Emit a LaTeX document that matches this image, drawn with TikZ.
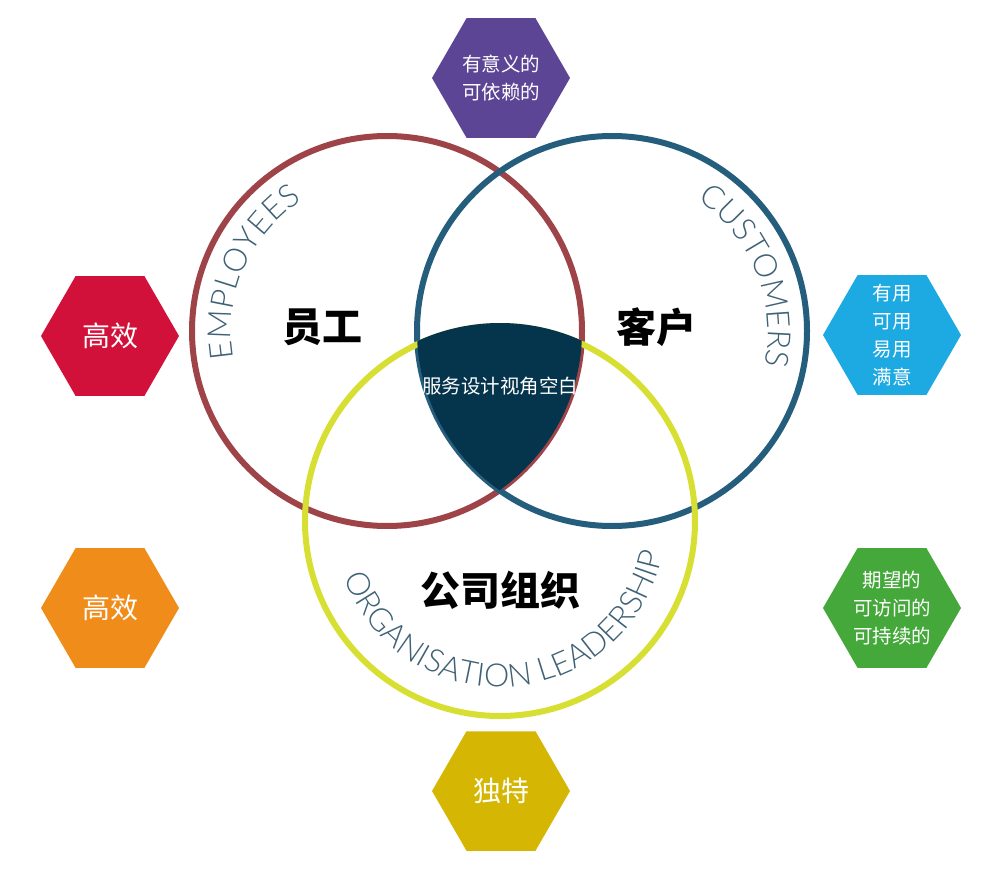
\documentclass[tikz,border=0pt]{standalone}
\usepackage{fontspec}
\newfontfamily\cjk{Noto Sans CJK SC}
\newfontfamily\lato{Lato Light}
\usetikzlibrary{calc,decorations.text,shapes.geometric}
\definecolor{cpurple}{HTML}{5C4595}
\definecolor{cred}{HTML}{D2113B}
\definecolor{corange}{HTML}{F08C1A}
\definecolor{cblue}{HTML}{1DA9E1}
\definecolor{cgreen}{HTML}{44A83A}
\definecolor{cyellow}{HTML}{D5B602}
\definecolor{ringred}{HTML}{9E4449}
\definecolor{ringblue}{HTML}{255E7D}
\definecolor{ringyellow}{HTML}{D8DF33}
\definecolor{cdark}{HTML}{05344D}
\definecolor{cslate}{HTML}{3E6175}
\tikzset{
  ring/.style={line width=6pt},
  hexshape/.style={regular polygon, regular polygon sides=6, minimum size=138pt, inner sep=0pt, draw=none},
  hextext/.style={font=\cjk\fontsize{19.5}{28}\selectfont, text=white, align=center, inner sep=0pt},
  hexbig/.style={font=\cjk\fontsize{28}{34}\selectfont, text=white, align=center, inner sep=0pt},
  biglabel/.style={font=\cjk\bfseries\fontsize{40}{48}\selectfont, text=black, inner sep=0pt},
}
\begin{document}
\begin{tikzpicture}[x=1pt,y=1pt]
\useasboundingbox (0,0) rectangle (1004,-872);
\fill[white] (0,0) rectangle (1004,-872);
\coordinate (E) at (387,-331);
\coordinate (C) at (612,-331);
\coordinate (O) at (500,-521);
% rings
\draw[ring, ringred] (E) circle (195pt);
\draw[ring, ringblue] (C) circle (195pt);
\draw[ring, ringyellow] (O) circle (195pt);
% centre intersection
\begin{scope}
  \clip (E) circle (195pt);
  \clip (C) circle (195pt);
  \fill[cdark] (O) circle (198pt);
\end{scope}
% arc texts
\path[decorate, decoration={text along path, text align=fit to path,
  text={|\lato\fontsize{32}{32}\selectfont\color{cslate}|EMPLOYEES}}]
  ($(E)+(190:156)$) arc[start angle=190, end angle=123, radius=156];
\path[decorate, decoration={text along path, text align=fit to path,
  text={|\lato\fontsize{32}{32}\selectfont\color{cslate}|CUSTOMERS}}]
  ($(C)+(57:156)$) arc[start angle=57, end angle=-10, radius=156];
\path[decorate, decoration={text along path, text align=fit to path,
  text={|\lato\fontsize{32}{32}\selectfont\color{cslate}|ORGANISATION LEADERSHIP}}]
  ($(O)+(200:166)$) arc[start angle=200, end angle=347, radius=166];
% labels
\node[biglabel] (lE) at (322,-327) {员工};
\node[biglabel] (lC) at (656,-327) {客户};
\node[biglabel] (lO) at (500,-590) {公司组织};
\node[font=\cjk\fontsize{19.5}{24}\selectfont, text=white, inner sep=0pt] (centre) at (500,-386) {服务设计视角空白};
% hexagons
\node[hexshape, fill=cpurple] (hP) at (501,-78) {};
\node[hextext] (tP) at (hP) {有意义的\\可依赖的};
\node[hexshape, fill=cred] (hR) at (110,-336) {};
\node[hexbig] (tR) at (hR) {高效};
\node[hexshape, fill=corange] (hO) at (110,-608) {};
\node[hexbig] (tO) at (hO) {高效};
\node[hexshape, fill=cblue] (hB) at (892,-335) {};
\node[hextext] (tB) at (hB) {有用\\可用\\易用\\满意};
\node[hexshape, fill=cgreen] (hG) at (892,-608) {};
\node[hextext] (tG) at (hG) {期望的\\可访问的\\可持续的};
\node[hexshape, fill=cyellow] (hY) at (501,-791) {};
\node[hexbig] (tY) at (hY) {独特};
\end{tikzpicture}
\end{document}
